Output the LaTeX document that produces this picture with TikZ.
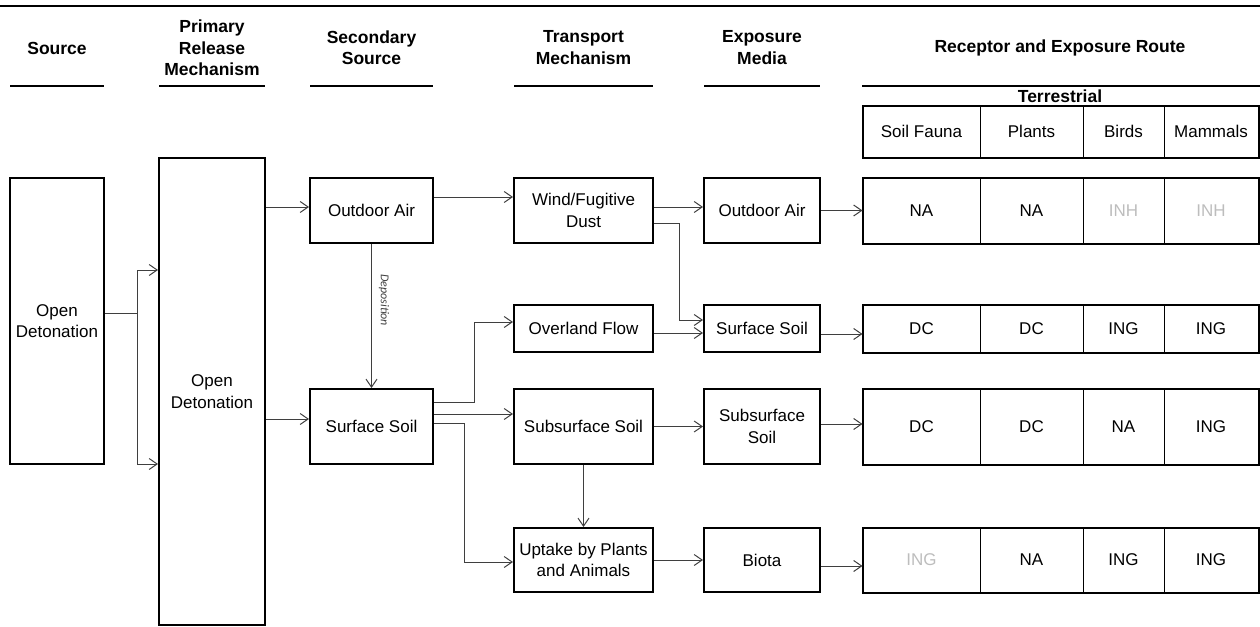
\documentclass[tikz,border=0pt]{standalone}
\usepackage{fontspec}
\setmainfont{Liberation Sans}
\newfontfamily\depfont{Carlito}
\usetikzlibrary{arrows.meta, positioning, calc}
\definecolor{cline}{HTML}{3F3F3F}
\definecolor{cfaint}{HTML}{BDBDBD}
\newcommand\greyed[1]{\textcolor{cfaint}{#1}}
\tikzset{
  every picture/.style={font=\fontsize{17}{21.5}\selectfont},
  box/.style={draw=black, line width=2pt, align=center, inner sep=2pt},
  cell/.style={draw=black, line width=1pt, align=center, inner sep=0pt},
  frame/.style={draw=black, line width=2pt},
  hrule/.style={draw=black, line width=2pt},
  head/.style={font=\fontsize{17.5}{21.5}\selectfont\bfseries, align=center},
  link/.style={draw=cline, line width=1pt},
  arrow/.style={link, -{Straight Barb[length=8pt, width=11pt]}},
  note/.style={font=\depfont\itshape\fontsize{12}{14}\selectfont, text=cline, inner sep=7pt},
}

\begin{document}
\begin{tikzpicture}[x=1pt, y=-1pt]
  \useasboundingbox (0,0) rectangle (1260,626);
  \draw[line width=1.5pt] (0,6) -- (1260,6);
  \foreach \a/\b in {10/104, 159/265, 310/433, 514/653, 704/820, 862/1260}
    \draw[hrule] (\a,86) -- (\b,86);
  \node[head] (hsrc) at (57,48) {Source};
  \node[head] (hprm) at (212,48) {Primary\\Release\\Mechanism};
  \node[head] (hsec) at (371.5,47.5) {Secondary\\Source};
  \node[head] (htrn) at (583.5,47.5) {Transport\\Mechanism};
  \node[head] (hexp) at (762,47.5) {Exposure\\Media};
  \node[head] (hrec) at (1060,48) {Receptor and Exposure Route};
  \node[head] (hter) at (1060,96) {Terrestrial};
  \foreach \n/\x/\w/\t in {a/921.5/117/Soil Fauna, b/1031.5/103/Plants, c/1123.5/81/Birds, d/1211/94/Mammals}
    \node[cell, minimum width=\w, minimum height=51] (h\n) at (\x,131.5) {\t};
  \draw[frame] (ha.north west) rectangle (hd.south east);

  \node[box, minimum width=94, minimum height=286] (src) at (57,321) {Open\\Detonation};
  \node[box, minimum width=106, minimum height=467] (prm) at (212,391.5) {Open\\Detonation};
  \node[box, minimum width=123, minimum height=65] (oa1) at (371.5,210.5) {Outdoor Air};
  \node[box, minimum width=123, minimum height=75] (ss1) at (371.5,426.5) {Surface Soil};
  \node[box, minimum width=139, minimum height=65] (wnd) at (583.5,210.5) {Wind/Fugitive\\Dust};
  \node[box, minimum width=139, minimum height=47] (ovl) at (583.5,328.5) {Overland Flow};
  \node[box, minimum width=139, minimum height=75] (sub) at (583.5,426.5) {Subsurface Soil};
  \node[box, minimum width=139, minimum height=64] (upt) at (583.5,560) {Uptake by Plants\\and Animals};
  \node[box, minimum width=116, minimum height=65] (eoa) at (762,210.5) {Outdoor Air};
  \node[box, minimum width=116, minimum height=47] (ess) at (762,328.5) {Surface Soil};
  \node[box, minimum width=116, minimum height=75] (esb) at (762,426.5) {Subsurface\\Soil};
  \node[box, minimum width=116, minimum height=64] (ebi) at (762,560) {Biota};

  \foreach \r/\yc/\h/\ta/\tb/\tc/\td in {1/210.5/65/NA/NA/\greyed{INH}/\greyed{INH},
      2/328.5/47/DC/DC/ING/ING, 3/426.5/75/DC/DC/NA/ING, 4/560/64/\greyed{ING}/NA/ING/ING} {
    \foreach \n/\x/\w/\t in {a/921.5/117/\ta, b/1031.5/103/\tb, c/1123.5/81/\tc, d/1211/94/\td}
      \node[cell, minimum width=\w, minimum height=\h] (r\r\n) at (\x,\yc) {\t};
    \draw[frame] (r\r a.north west) rectangle (r\r d.south east);
  }

  \draw[link] ([yshift=8]src.east) -- ++(32,0) coordinate (fork);
  \draw[arrow] (fork) |- ([yshift=121.5]prm.west);
  \draw[arrow] (fork) |- ([yshift=-72.5]prm.west);
  \coordinate (oa1in) at ([yshift=3.5]oa1.west);
  \coordinate (ss1in) at ([yshift=7.5]ss1.west);
  \draw[arrow] (prm.east |- oa1in) -- (oa1in);
  \draw[arrow] (prm.east |- ss1in) -- (ss1in);
  \draw[arrow] (oa1) -- (ss1) node[pos=0.39, anchor=south, rotate=-90, note] {Deposition};
  \draw[arrow] ([yshift=13.5]oa1.east) -- ([yshift=13.5]wnd.west);
  \draw[arrow] ([yshift=24.5]ss1.east) -- ++(40,0) |- ([yshift=6.5]ovl.west);
  \draw[arrow] ([yshift=12.5]ss1.east) -- ([yshift=12.5]sub.west);
  \draw[arrow] ([yshift=3.5]ss1.east) -- ++(30,0) |- ([yshift=-2]upt.west);
  \draw[arrow] (sub) -- (upt);
  \draw[arrow] ([yshift=3.5]wnd.east) -- ([yshift=3.5]eoa.west);
  \draw[arrow] ([yshift=-12.5]wnd.east) -- ++(25,0) |- ([yshift=8.5]ess.west);
  \draw[arrow] ([yshift=-4.5]ovl.east) -- ([yshift=-4.5]ess.west);
  \draw[arrow] (sub) -- (esb);
  \draw[arrow] (upt) -- (ebi);
  \foreach \e/\r/\d in {eoa/1/0, ess/2/-5.5, esb/3/2.5, ebi/4/-6}
    \draw[arrow] ([yshift=\d]\e.east) -- ([yshift=\d]r\r a.west);
\end{tikzpicture}
\end{document}
